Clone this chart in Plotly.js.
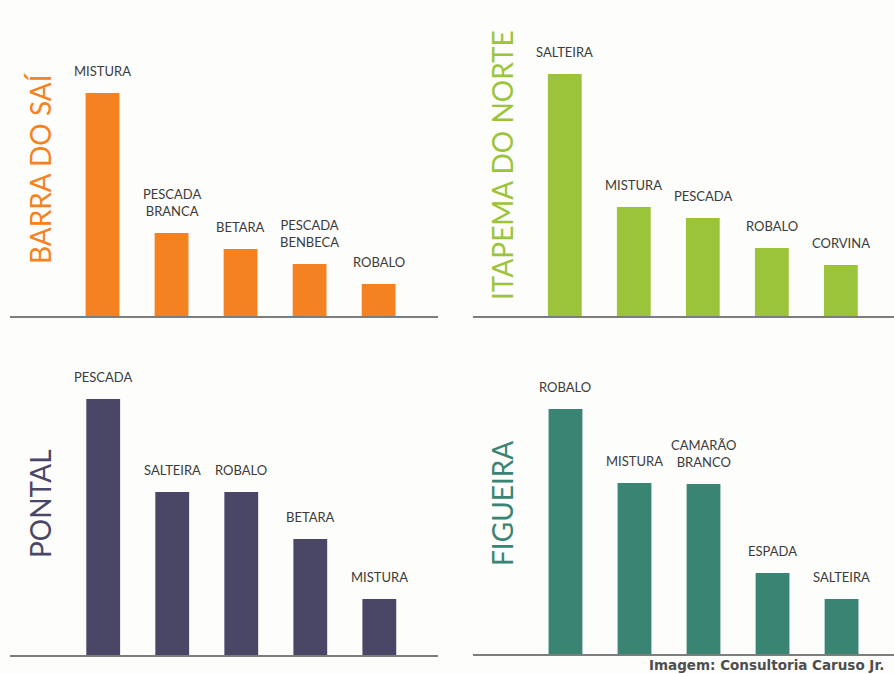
<!DOCTYPE html>
<html>
<head>
<meta charset="utf-8">
<script src="https://cdn.plot.ly/plotly-3.0.1.min.js"></script>
<style>
  html, body { margin: 0; padding: 0; background: #fdfdfb; }
  #chart { width: 894px; height: 674px; }
</style>
</head>
<body>
<div id="chart"></div>
<script>
// ---- Data (relative bar heights) ----
const barraTitle = 'BARRA DO SAÍ';
const barraCats = ['MISTURA', 'PESCADA<br>BRANCA', 'BETARA', 'PESCADA<br>BENBECA', 'ROBALO'];
const barraVals = [223, 83, 67, 52, 32];

const itapemaTitle = 'ITAPEMA DO NORTE';
const itapemaCats = ['SALTEIRA', 'MISTURA', 'PESCADA', 'ROBALO', 'CORVINA'];
const itapemaVals = [242, 109, 98, 68, 51];

const pontalTitle = 'PONTAL';
const pontalCats = ['PESCADA', 'SALTEIRA', 'ROBALO', 'BETARA', 'MISTURA'];
const pontalVals = [256, 163, 163, 116, 56];

const figueiraTitle = 'FIGUEIRA';
const figueiraCats = ['ROBALO', 'MISTURA', 'CAMARÃO<br>BRANCO', 'ESPADA', 'SALTEIRA'];
const figueiraVals = [245, 171, 170, 81, 55];

const credit = 'Imagem: Consultoria Caruso Jr.';

// ---- Styling / layout ----
const W = 894, H = 674;
const px = v => v / W;          // x pixel -> paper
const py = v => (H - v) / H;    // y pixel (from top) -> paper

const panels = [
  { title: barraTitle,   cats: barraCats,   vals: barraVals,   color: '#f58220', ax: '',  xdom: [10, 438],  base: 316, hgt: 280, xr: [-1.34, 4.86], tx: 40,  ty: 168 },
  { title: itapemaTitle, cats: itapemaCats, vals: itapemaVals, color: '#9cc43a', ax: '2', xdom: [473, 894], base: 316, hgt: 280, xr: [-1.33, 4.77], tx: 502, ty: 165 },
  { title: pontalTitle,  cats: pontalCats,  vals: pontalVals,  color: '#4a4766', ax: '3', xdom: [10, 438],  base: 655, hgt: 300, xr: [-1.35, 4.85], tx: 40,  ty: 504 },
  { title: figueiraTitle,cats: figueiraCats,vals: figueiraVals,color: '#3a8474', ax: '4', xdom: [473, 894], base: 654, hgt: 300, xr: [-1.34, 4.76], tx: 502, ty: 504 }
];

const labelFont = { family: 'Lato, "Open Sans", sans-serif', size: 13, color: '#3b3b3b' };
const titleFamily = 'Lato, "Open Sans", sans-serif';

const traces = [];
const layout = {
  width: W, height: H,
  margin: { l: 0, r: 0, t: 0, b: 0 },
  paper_bgcolor: '#fdfdfb',
  plot_bgcolor: 'rgba(0,0,0,0)',
  showlegend: false,
  bargap: 0.5,
  annotations: []
};

panels.forEach(p => {
  const xa = 'x' + p.ax, ya = 'y' + p.ax;
  traces.push({
    type: 'bar',
    x: p.cats,
    y: p.vals,
    xaxis: xa, yaxis: ya,
    marker: { color: p.color, line: { width: 0 } },
    width: 0.49,
    hoverinfo: 'skip'
  });
  const xKey = 'xaxis' + p.ax, yKey = 'yaxis' + p.ax;
  layout[xKey] = {
    domain: [px(p.xdom[0]), px(p.xdom[1])],
    anchor: ya,
    type: 'category',
    range: p.xr,
    showline: true, linecolor: '#7d7d7d', linewidth: 1.6,
    showgrid: false, zeroline: false,
    showticklabels: false, ticks: '',
    fixedrange: true
  };
  layout[yKey] = {
    domain: [py(p.base), py(p.base - p.hgt)],
    anchor: xa,
    range: [0, p.hgt],
    visible: false,
    fixedrange: true
  };
  // bar labels
  p.cats.forEach((c, i) => {
    layout.annotations.push({
      xref: xa, yref: ya,
      x: c, y: p.vals[i],
      text: c,
      showarrow: false,
      xanchor: 'center', yanchor: 'bottom',
      yshift: 12,
      align: 'center',
      font: labelFont
    });
  });
  // vertical panel title
  layout.annotations.push({
    xref: 'paper', yref: 'paper',
    x: px(p.tx), y: py(p.ty),
    text: p.title,
    textangle: -90,
    showarrow: false,
    xanchor: 'center', yanchor: 'middle',
    font: { family: titleFamily, size: 28, color: p.color }
  });
});

layout.annotations.push({
  xref: 'paper', yref: 'paper',
  x: px(648), y: py(674),
  text: '<b>' + credit + '</b>',
  showarrow: false,
  xanchor: 'left', yanchor: 'bottom',
  borderpad: 0,
  font: { family: '"DejaVu Sans", sans-serif', size: 13.5, color: '#4e4e4e' }
});

Plotly.newPlot('chart', traces, layout, { displayModeBar: false, staticPlot: true });
</script>
</body>
</html>
